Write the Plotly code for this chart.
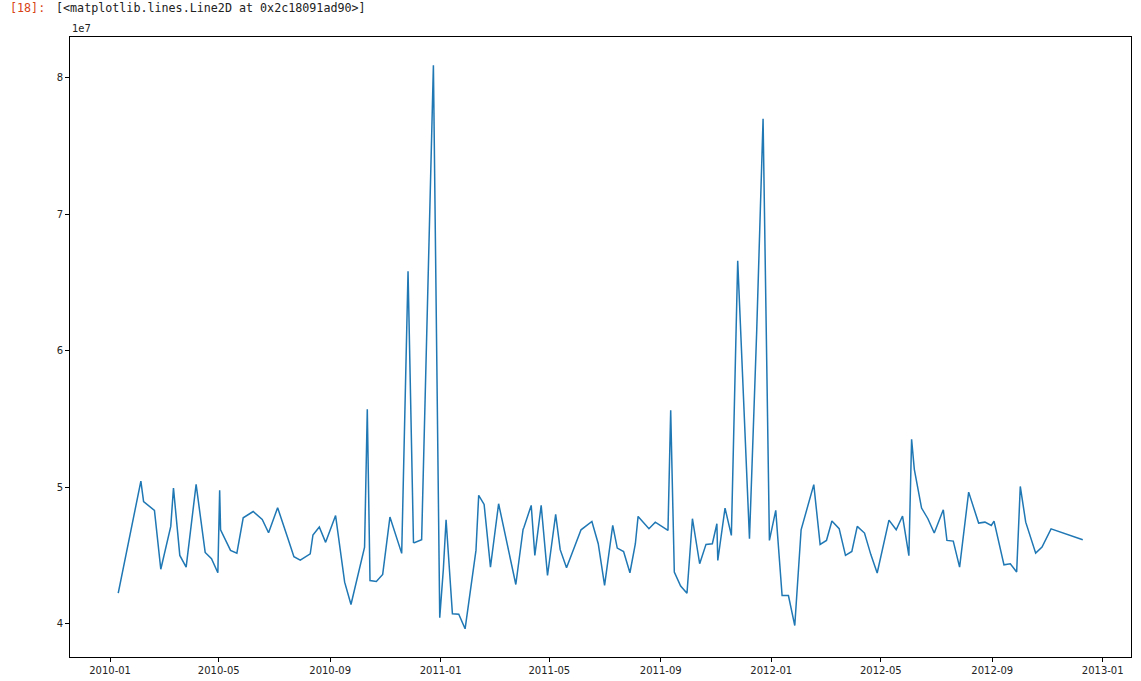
import plotly.graph_objects as go
import pandas as pd

# Weekly total sales (dates as parsed, sorted), values in millions
dates_2010 = ["2010-01-10","2010-02-04","2010-02-07","2010-02-19","2010-02-26","2010-03-09","2010-03-12","2010-03-19",
              "2010-03-26","2010-04-06","2010-04-16","2010-04-23","2010-04-30","2010-05-02","2010-05-03","2010-05-11",
              "2010-05-14","2010-05-21","2010-05-28","2010-06-08","2010-06-18","2010-06-25","2010-07-05","2010-07-16",
              "2010-07-23","2010-07-30","2010-08-10","2010-08-13","2010-08-20","2010-08-27","2010-09-04","2010-09-07",
              "2010-09-17","2010-09-24","2010-10-09","2010-10-12","2010-10-15","2010-10-22","2010-10-29","2010-11-06",
              "2010-11-19","2010-11-26","2010-12-02","2010-12-03","2010-12-11","2010-12-17","2010-12-24","2010-12-31"]
sales_2010 = [42.22, 50.44, 48.93, 48.29, 43.98, 47.12, 49.93, 44.99, 44.13, 50.20, 45.21, 44.75, 43.72, 49.76,
              46.87, 45.80, 45.36, 45.15, 47.75, 48.21, 47.63, 46.65, 48.49, 46.30, 44.90, 44.65, 45.11, 46.49,
              47.07, 45.95, 47.39, 47.91, 43.03, 41.39, 45.60, 55.70, 43.15, 43.08, 43.60, 47.80, 45.14, 65.82,
              45.94, 45.92, 46.14, 62.20, 80.93, 40.43]

dates_2011 = ["2011-01-04","2011-01-07","2011-01-14","2011-01-21","2011-01-28","2011-02-09","2011-02-12","2011-02-18",
              "2011-02-25","2011-03-06","2011-03-18","2011-03-25","2011-04-02","2011-04-03","2011-04-11","2011-04-15",
              "2011-04-22","2011-04-29","2011-05-08","2011-05-13","2011-05-20","2011-05-27","2011-06-05","2011-06-17",
              "2011-06-24","2011-07-01","2011-07-10","2011-07-15","2011-07-22","2011-07-29","2011-08-04","2011-08-07",
              "2011-08-19","2011-08-26","2011-09-09","2011-09-12","2011-09-16","2011-09-23","2011-09-30","2011-10-06",
              "2011-10-14","2011-10-21","2011-10-28","2011-11-02","2011-11-03","2011-11-11","2011-11-18","2011-11-25",
              "2011-12-08","2011-12-16","2011-12-23","2011-12-30"]
sales_2011 = [44.00, 47.61, 40.71, 40.68, 39.61, 45.36, 49.39, 48.73, 44.13, 48.78, 45.14, 42.86, 46.90, 47.06,
              48.66, 44.99, 48.66, 43.52, 48.00, 45.41, 44.09, 45.32, 46.87, 47.48, 45.85, 42.79, 47.19, 45.53,
              45.28, 43.72, 45.85, 47.85, 46.95, 47.43, 46.82, 55.63, 43.77, 42.74, 42.22, 47.68, 44.38, 45.80,
              45.85, 47.31, 44.62, 48.46, 46.46, 66.59, 46.21, 61.50, 77.00, 46.09]

dates_2012 = ["2012-01-06","2012-01-13","2012-01-20","2012-01-27","2012-02-03","2012-02-17","2012-02-24","2012-03-02",
              "2012-03-08","2012-03-16","2012-03-23","2012-03-30","2012-04-05","2012-04-13","2012-04-20","2012-04-27",
              "2012-05-10","2012-05-18","2012-05-25","2012-06-01","2012-06-04","2012-06-07","2012-06-15","2012-06-22",
              "2012-06-29","2012-07-09","2012-07-13","2012-07-20","2012-07-27","2012-08-06","2012-08-17","2012-08-24",
              "2012-08-31","2012-09-03","2012-09-14","2012-09-21","2012-09-28","2012-10-02","2012-10-08","2012-10-19",
              "2012-10-26","2012-11-05","2012-12-10"]
sales_2012 = [48.29, 42.05, 42.05, 39.85, 46.87, 50.18, 45.80, 46.09, 47.51, 46.95, 44.99, 45.28, 47.12, 46.63,
              45.05, 43.70, 47.58, 46.87, 47.88, 44.97, 53.50, 51.30, 48.46, 47.68, 46.63, 48.34, 46.09, 46.04,
              44.13, 49.63, 47.36, 47.43, 47.19, 47.51, 44.30, 44.38, 43.77, 50.05, 47.43, 45.16, 45.60, 46.94,
              46.14]

x_tick_labels = ["2010-01", "2010-05", "2010-09", "2011-01", "2011-05", "2011-09", "2012-01", "2012-05", "2012-09", "2013-01"]
y_tick_labels = ["4", "5", "6", "7", "8"]

dates = pd.to_datetime(dates_2010 + dates_2011 + dates_2012)
sales = [v * 1e6 for v in sales_2010 + sales_2011 + sales_2012]

fig = go.Figure()
fig.add_trace(go.Scatter(x=dates, y=sales, mode="lines",
                         line=dict(color="#1f77b4", width=1.5), showlegend=False, hoverinfo="x+y"))

# matplotlib-like autoscale with 5% margins
xmin, xmax = dates.min(), dates.max()
span = xmax - xmin
ymin, ymax = min(sales), max(sales)
yspan = ymax - ymin

axis_font = dict(family="DejaVu Sans", size=10, color="#222222")
fig.update_layout(
    width=1141, height=681,
    margin=dict(l=70, r=10, t=37, b=24),
    paper_bgcolor="white", plot_bgcolor="white",
    xaxis=dict(range=[xmin - span * 0.05, xmax + span * 0.05], automargin=False,
               tickvals=[pd.Timestamp(t + "-01") for t in x_tick_labels], ticktext=x_tick_labels,
               showgrid=False, zeroline=False, showline=True, mirror=True, linecolor="#000000", linewidth=1,
               ticks="outside", ticklen=4, tickwidth=1, tickcolor="#000000", tickfont=axis_font),
    yaxis=dict(range=[ymin - yspan * 0.05, ymax + yspan * 0.05], automargin=False,
               tickvals=[float(t) * 1e7 for t in y_tick_labels], ticktext=y_tick_labels,
               showgrid=False, zeroline=False, showline=True, mirror=True, linecolor="#000000", linewidth=1,
               ticks="outside", ticklen=4, tickwidth=1, tickcolor="#000000", tickfont=axis_font),
    annotations=[
        dict(text="1e7", xref="paper", yref="paper", x=0.0, y=1.0, xanchor="left", yanchor="bottom",
             showarrow=False, font=dict(family="DejaVu Sans", size=10, color="#222222"), yshift=1),
        dict(text="[18]:", xref="paper", yref="paper", x=(8 - 70) / 1061, y=(657 - 8) / 620,
             xanchor="left", yanchor="middle", showarrow=False,
             font=dict(family="DejaVu Sans Mono", size=11.7, color="#D84315")),
        dict(text="[&lt;matplotlib.lines.Line2D at 0x2c18091ad90&gt;]", xref="paper", yref="paper",
             x=(54 - 70) / 1061, y=(657 - 8) / 620, xanchor="left", yanchor="middle", showarrow=False,
             font=dict(family="DejaVu Sans Mono", size=11.7, color="#212121")),
    ],
)

fig.write_html("out.html", config={"displayModeBar": False},
               post_script="document.body.style.margin='0';document.body.style.overflow='hidden';")
